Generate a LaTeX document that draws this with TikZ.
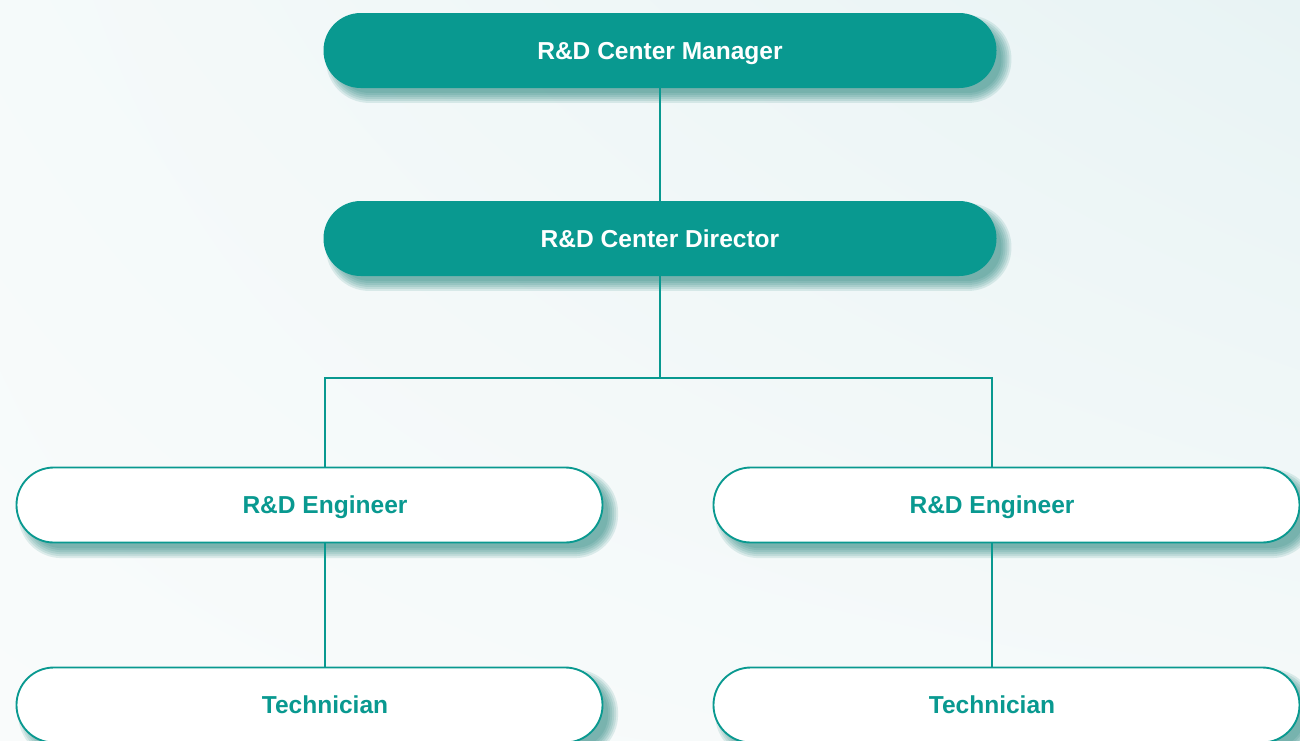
\documentclass[tikz,border=0pt]{standalone}
\usepackage{fontspec}
\setmainfont{Liberation Sans}
\usetikzlibrary{calc,shadings}
\definecolor{tealA}{RGB}{9,153,144}
\definecolor{bgA}{RGB}{249,251,251}
\definecolor{bgB}{RGB}{245,250,250}
\definecolor{bgC}{RGB}{232,243,244}
\definecolor{shadowc}{RGB}{18,122,114}
\pgfdeclarelayer{bglayer}
\pgfdeclarelayer{shadowlayer}
\pgfsetlayers{bglayer,shadowlayer,main}
\newcommand\boxfont{\fontsize{18.4pt}{22pt}\selectfont\bfseries}
\tikzset{
  basebox/.style={rounded corners=28pt, minimum height=56.25pt, inner sep=0pt, font=\boxfont, text height=13.2pt, text depth=0pt},
  topbox/.style={basebox, fill=tealA, text=white, minimum width=504.75pt},
  subbox/.style={basebox, fill=white, draw=tealA, line width=1.4pt, text=tealA, minimum width=439.5pt},
  link/.style={draw=tealA, line width=1.4pt},
}
\begin{document}
\begin{tikzpicture}[x=0.75pt,y=-0.75pt]
\begin{pgfonlayer}{bglayer}
\shade[lower left=bgA, upper right=bgC, upper left=bgB, lower right=bgB] (0,0) rectangle (1300,740);
\end{pgfonlayer}
\useasboundingbox (0,0) rectangle (1300,740);

\node[topbox] (mgr) at (660,50.5) {R\&D Center Manager};
\node[topbox] (dir) at (660,238.5) {R\&D Center Director};
\node[subbox] (eng1) at (309.5,505) {\hspace*{23.25pt}R\&D Engineer};
\node[subbox] (eng2) at (1006.5,505) {\hspace*{-21.75pt}R\&D Engineer};
\node[subbox] (tech1) at (309.5,705) {\hspace*{23.25pt}Technician};
\node[subbox] (tech2) at (1006.5,705) {\hspace*{-21.75pt}Technician};

\coordinate (bus) at (660,378);
\coordinate (lbus) at (325,378);
\coordinate (rbus) at (992,378);

\draw[link] (mgr) -- (dir);
\draw[link] (dir) -- (bus);
\draw[link] (lbus |- eng1.north) |- (bus) -| (rbus |- eng2.north);
\draw[link] (lbus |- eng1.south) -- (lbus |- tech1.north);
\draw[link] (rbus |- eng2.south) -- (rbus |- tech2.north);

\begin{pgfonlayer}{shadowlayer}
\foreach \n in {mgr,dir,eng1,eng2,tech1,tech2}{
  \foreach \g in {-3,-1.5,0,1.5,3,4.5}{
    \pgfmathsetmacro\rr{28+\g}
    \pgfmathsetmacro\xa{6.5-\g}
    \pgfmathsetmacro\ya{-6.5+\g}
    \pgfmathsetmacro\xb{6.5+\g}
    \pgfmathsetmacro\yb{-6.5-\g}
    \fill[shadowc, opacity=0.12, rounded corners=\rr pt]
      ($(\n.north west)+(\xa pt,\ya pt)$) rectangle ($(\n.south east)+(\xb pt,\yb pt)$);
  }
}
\end{pgfonlayer}
\end{tikzpicture}
\end{document}
